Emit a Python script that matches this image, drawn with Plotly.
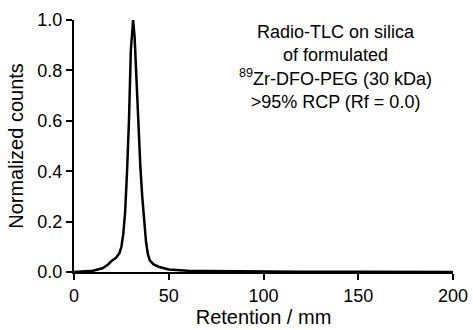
import plotly.graph_objects as go

retention_mm = [0, 5, 10, 15, 18, 20, 22, 24, 25, 26, 27, 28, 29, 30, 31.2, 32, 33, 34, 35, 36,
                37, 38, 39, 40, 42, 45, 50, 55, 60, 70, 80, 100, 120, 150, 200]
normalized_counts = [0, 0.002, 0.005, 0.015, 0.03, 0.045, 0.055, 0.075, 0.1, 0.15, 0.24, 0.4, 0.6,
                     0.88, 1.0, 0.93, 0.75, 0.58, 0.42, 0.3, 0.19, 0.12, 0.07, 0.046, 0.03, 0.02,
                     0.01, 0.007, 0.005, 0.004, 0.003, 0.002, 0.001, 0.0005, 0.0]
x_ticks = [0, 50, 100, 150, 200]
y_ticks = [0.0, 0.2, 0.4, 0.6, 0.8, 1.0]
annotation_lines = ["Radio-TLC on silica", "of formulated",
                    "<sup>89</sup>Zr-DFO-PEG (30 kDa)", ">95% RCP (Rf = 0.0)"]

FONT = "Liberation Sans, Arial, sans-serif"

fig = go.Figure()
fig.add_trace(go.Scatter(x=retention_mm, y=normalized_counts, mode="lines",
                         line=dict(color="black", width=2.5), showlegend=False))

fig.update_layout(
    width=473, height=330,
    margin=dict(l=74, r=20, t=20, b=58),
    paper_bgcolor="white", plot_bgcolor="white",
    font=dict(family=FONT, size=18, color="black"),
    xaxis=dict(range=[0, 200], tickvals=x_ticks, showline=True, linecolor="black", linewidth=2,
               ticks="outside", ticklen=6, tickwidth=2, tickcolor="black", showgrid=False,
               zeroline=False, automargin=False,
               title=dict(text="Retention / mm", standoff=4, font=dict(size=20)),
               tickfont=dict(size=18)),
    yaxis=dict(range=[0, 1.0], tickvals=y_ticks, tickformat=".1f", showline=True,
               linecolor="black", linewidth=2, ticks="outside", ticklen=6, tickwidth=2,
               tickcolor="black", showgrid=False, zeroline=False, automargin=False,
               title=dict(text="Normalized counts", standoff=8, font=dict(size=20)),
               tickfont=dict(size=18)),
)

fig.add_annotation(text="<br>".join(annotation_lines), x=0.69, y=1.0, xref="paper", yref="paper",
                   xanchor="center", yanchor="top", showarrow=False, align="center",
                   font=dict(family=FONT, size=18, color="black"))

fig.write_html("out.html", config={"displayModeBar": False},
               post_script="document.body.style.margin='0';document.body.style.overflow='hidden';")
